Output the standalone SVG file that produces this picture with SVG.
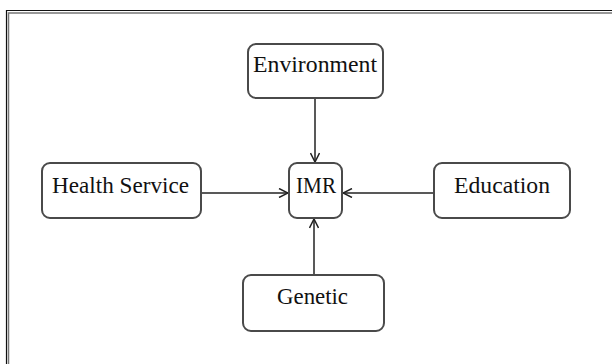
<svg xmlns="http://www.w3.org/2000/svg" width="612" height="364" viewBox="0 0 612 364">
<defs>
<style>
.box{fill:#fff;stroke:#4a4a4a;stroke-width:2}
.lbl{font-family:"Liberation Serif","Times New Roman",serif;font-size:23px;fill:#111;text-anchor:middle}
.edge{stroke:#222;stroke-width:1.5;fill:none}
</style>
<marker id="arr" viewBox="0 0 10 10" refX="10" refY="5" markerWidth="10" markerHeight="10" markerUnits="userSpaceOnUse" orient="auto">
<path d="M1,0.5 L10,5 L1,9.5" fill="none" stroke="#222" stroke-width="1.5"/>
</marker>
</defs>
<rect width="612" height="364" fill="#fff"/>
<g id="frame">
<path d="M6.5,364 V10.5 H612" fill="none" stroke="#111" stroke-width="1.2"/>
<path d="M8.5,364 V13 H612" fill="none" stroke="#777" stroke-width="1.5"/>
</g>
<g id="connectors">
<line class="edge" x1="315" y1="98" x2="315" y2="162" marker-end="url(#arr)"/>
<line class="edge" x1="201" y1="193" x2="288" y2="193" marker-end="url(#arr)"/>
<line class="edge" x1="434" y1="193" x2="343" y2="193" marker-end="url(#arr)"/>
<line class="edge" x1="314" y1="275" x2="314" y2="219" marker-end="url(#arr)"/>
</g>
<g id="environment">
<rect class="box" x="248" y="44" width="135" height="54" rx="8"/>
<text class="lbl" x="315" y="72" textLength="124" lengthAdjust="spacingAndGlyphs">Environment</text>
</g>
<g id="health-service">
<rect class="box" x="42" y="163" width="159" height="55" rx="8"/>
<text class="lbl" x="120.5" y="193" textLength="137" lengthAdjust="spacingAndGlyphs">Health Service</text>
</g>
<g id="imr">
<rect class="box" x="289" y="163" width="53" height="55" rx="8"/>
<text class="lbl" x="316" y="193" textLength="40" lengthAdjust="spacingAndGlyphs">IMR</text>
</g>
<g id="education">
<rect class="box" x="434" y="163" width="136" height="55" rx="8"/>
<text class="lbl" x="502" y="193" textLength="96" lengthAdjust="spacingAndGlyphs">Education</text>
</g>
<g id="genetic">
<rect class="box" x="243" y="275" width="141" height="56" rx="8"/>
<text class="lbl" x="312.5" y="304" textLength="71" lengthAdjust="spacingAndGlyphs">Genetic</text>
</g>
</svg>
